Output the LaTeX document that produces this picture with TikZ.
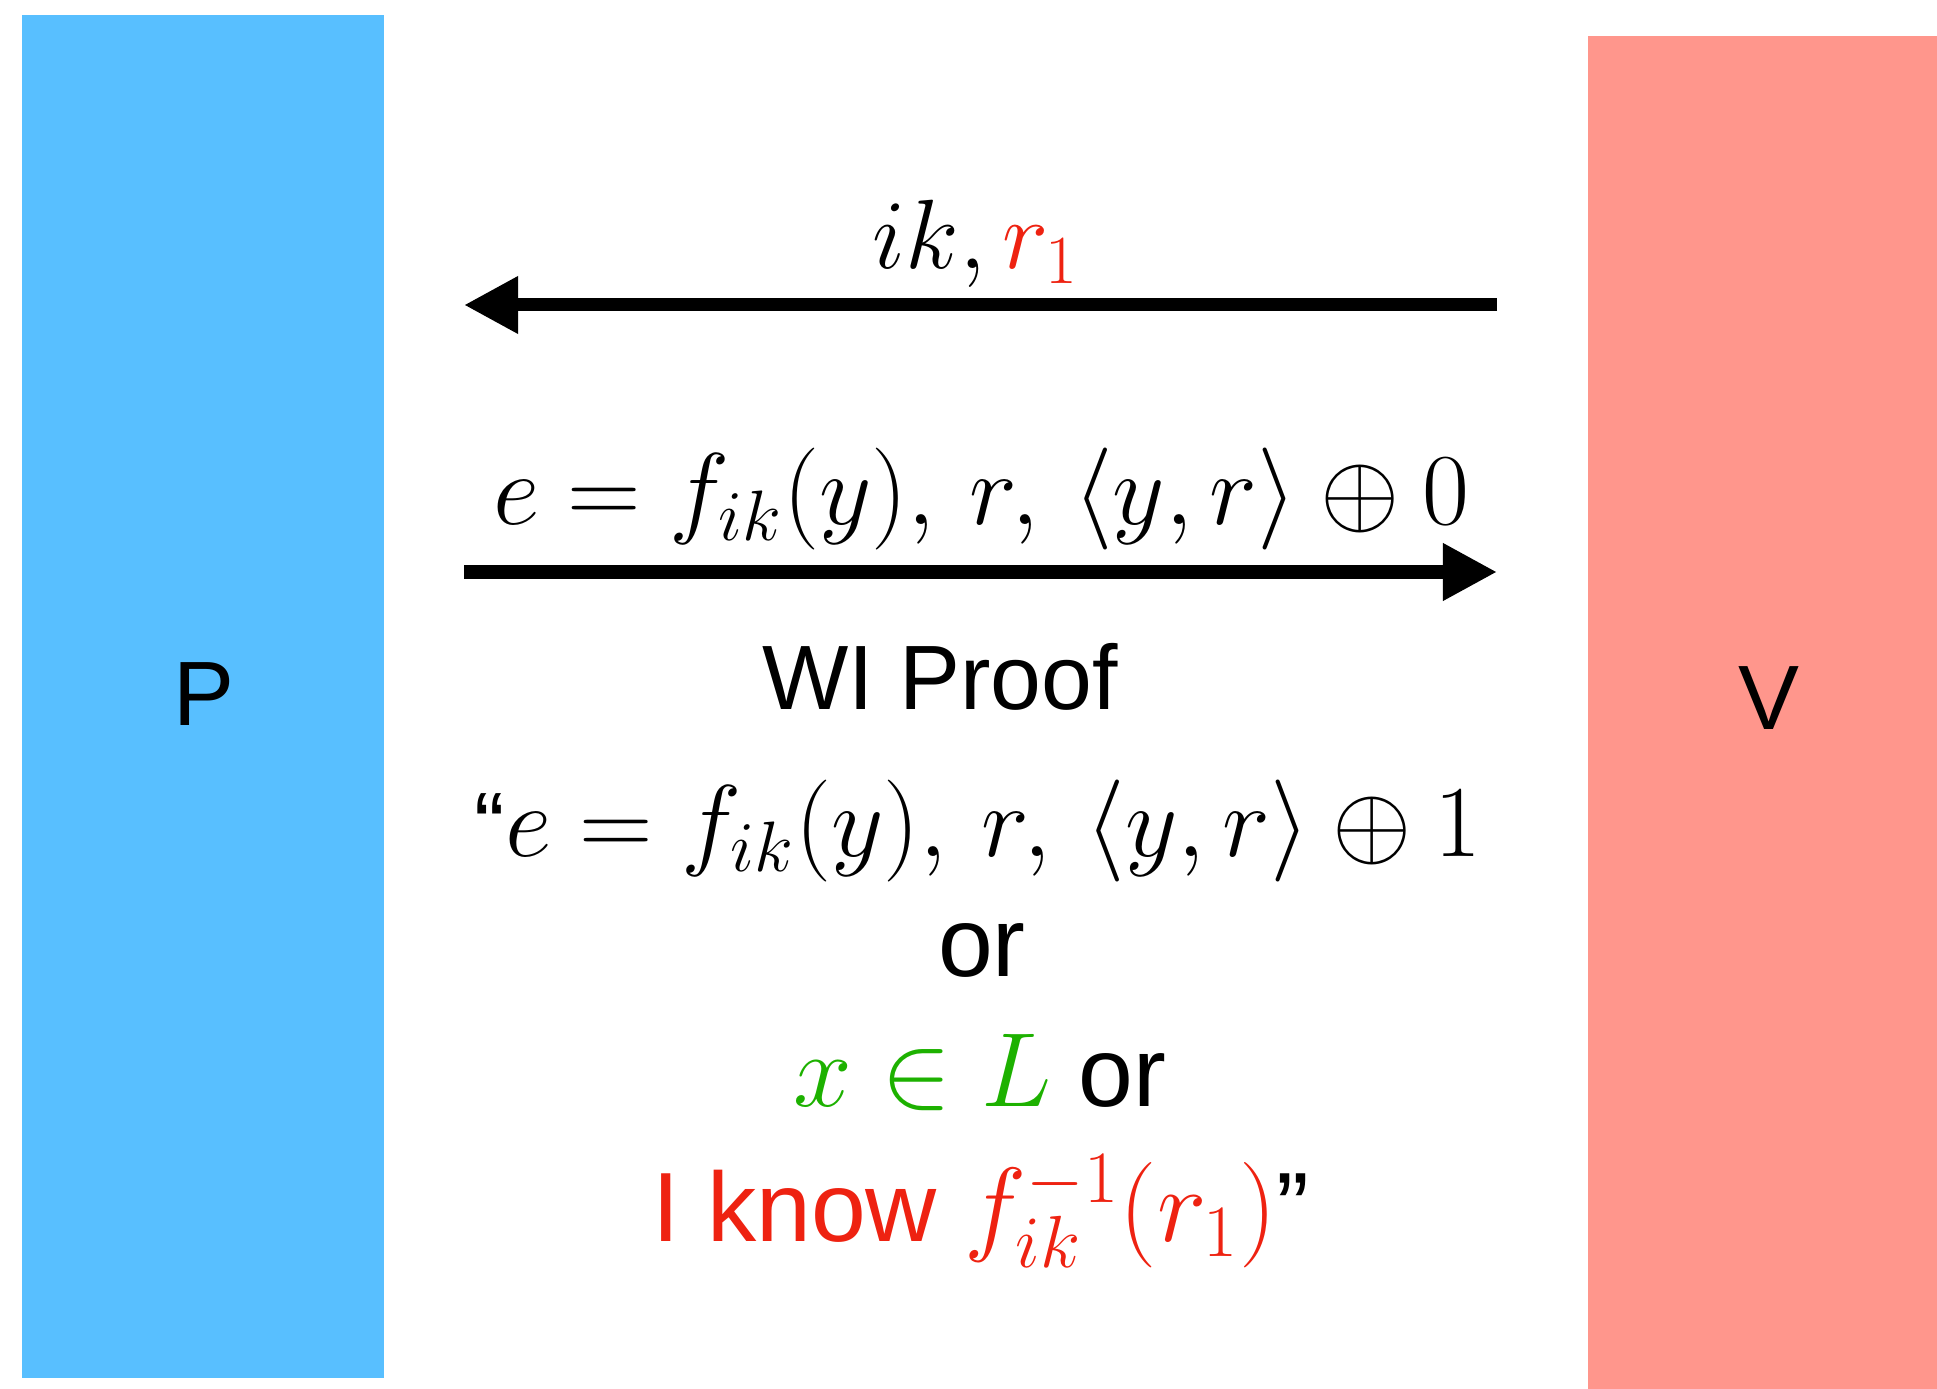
\RequirePackage{fix-cm}
\documentclass[tikz,border=0pt]{standalone}
\usepackage{fontspec}
\setmainfont{Liberation Serif}
\setsansfont{Liberation Sans}
\usetikzlibrary{arrows.meta,positioning}
\definecolor{proverblue}{RGB}{88,191,255}
\definecolor{verifierred}{RGB}{255,150,140}
\definecolor{textred}{RGB}{238,34,17}
\definecolor{textgreen}{RGB}{29,177,0}

\begin{document}
\begin{tikzpicture}[
  x=0.01cm, y=-0.01cm,
  party/.style={font=\fontsize{26}{30}\selectfont\sffamily, anchor=base, inner sep=0pt},
  sanstext/.style={font=\fontsize{28}{32}\selectfont\sffamily, anchor=base, inner sep=0pt},
  mathtext/.style={font=\fontsize{29}{35}\selectfont, anchor=base, inner sep=0pt},
  msg/.style={-{Triangle[length=15.4pt, width=15.4pt]}, line width=3.7pt}
]
\useasboundingbox (0,0) rectangle (1937,1389);

% Parties
\fill[proverblue] (22,15) rectangle (384,1378);
\fill[verifierred] (1588,36) rectangle (1937,1389);
\node[party] (prover) at (204,726) {P};
\node[party] (verifier) at (1769,729) {V};

% Messages
\coordinate (vfirst) at (1497,305);
\coordinate (pfirst) at (464,305);
\coordinate (psecond) at (464,572);
\coordinate (vsecond) at (1497,572);
\draw[msg] (vfirst) -- (pfirst);
\draw[msg] (psecond) -- (vsecond);

\node[mathtext, font=\fontsize{28}{34}\selectfont] (challenge) at (976,269)
  {$ik, \textcolor{textred}{r_1}$};
\node[mathtext] (commit) at (981,525)
  {$e = f_{ik}(y),\, r,\, \langle y, r\rangle \oplus 0$};

% WI proof statement
\node[party] (wi) at (940,710) {WI Proof};
\node[mathtext] (stmt) at (978,856)
  {{\sffamily\fontsize{26}{30}\selectfont “}$e = f_{ik}(y),\, r,\, \langle y, r\rangle \oplus 1$};
\node[sanstext] (orone) at (982,976) {or};
\node[sanstext] (member) at (980,1106)
  {{\fontsize{30}{36}\selectfont$\textcolor{textgreen}{x \in L}$} or};
\node[sanstext] (know) at (981,1241)
  {\textcolor{textred}{I know {\fontsize{30}{36}\selectfont$f_{ik}^{-1}(r_1)$}}”};
\end{tikzpicture}
\end{document}
